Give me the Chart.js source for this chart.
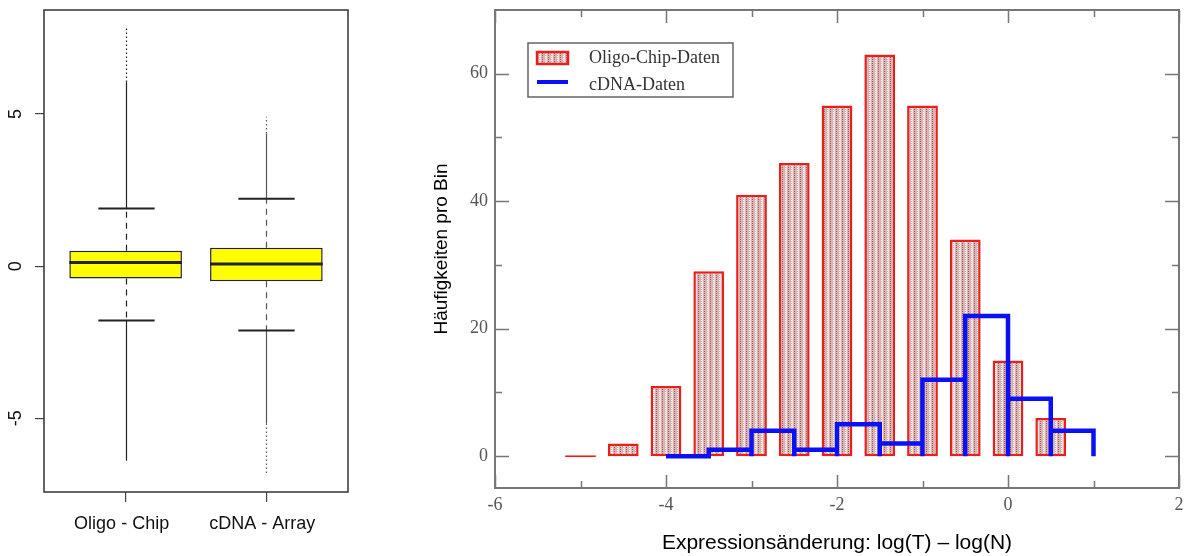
<!DOCTYPE html>
<html>
<head>
<meta charset="utf-8">
<script src="https://cdn.jsdelivr.net/npm/chart.js@4.4.0/dist/chart.umd.min.js"></script>
<style>
  html, body { margin: 0; padding: 0; background: #ffffff; }
  #wrap { position: relative; width: 1193px; height: 556px; overflow: hidden; background: #fff; }
  #boxCanvas { position: absolute; left: 0; top: 0; }
  #histCanvas { position: absolute; left: 400px; top: 0; }
</style>
</head>
<body>
<div id="wrap">
  <canvas id="boxCanvas" width="400" height="556"></canvas>
  <canvas id="histCanvas" width="793" height="556"></canvas>
</div>
<script>
// ---------- Left chart data (box plot) ----------
const boxCategories = ['Oligo - Chip', 'cDNA - Array'];
const boxQ1 = [-0.40, -0.49];
const boxMedian = [0.12, 0.07];
const boxQ3 = [0.51, 0.61];
const whiskerLow = [-1.78, -2.11];
const whiskerHigh = [1.90, 2.22];
const outlierDenseMin = [-6.39, -5.17];
const outlierDenseMax = [6.05, 4.36];
const outlierMin = [-6.39, -6.80];
const outlierMax = [7.85, 4.91];
const boxYTicks = [-5, 0, 5];

// ---------- Right chart data (histogram) ----------
const oligoLabel = 'Oligo-Chip-Daten';
const cdnaLabel = 'cDNA-Daten';
const oligoBinCenters = [-5, -4.5, -4, -3.5, -3, -2.5, -2, -1.5, -1, -0.5, 0, 0.5];
const oligoCounts = [0, 2, 11, 29, 41, 46, 55, 63, 55, 34, 15, 6];
const cdnaBinEdges = [-4, -3.5, -3, -2.5, -2, -1.5, -1, -0.5, 0, 0.5, 1];
const cdnaCounts = [0, 1, 4, 1, 5, 2, 12, 22, 9, 4];
const histXTicks = [-6, -5, -4, -3, -2, -1, 0, 1, 2];
const histXTickLabels = [-6, -4, -2, 0, 2];
const histYTicks = [0, 10, 20, 30, 40, 50, 60];
const histYTickLabels = [0, 20, 40, 60];

// ---------- helpers ----------
function makePattern() {
  const c = document.createElement('canvas');
  c.width = 6; c.height = 4;
  const g = c.getContext('2d');
  g.fillStyle = '#dbb3b3';
  g.fillRect(0, 0, 6, 4);
  g.fillStyle = '#ffffff';
  g.fillRect(1, 0, 1, 1);
  g.fillRect(1, 2, 1, 1);
  g.fillStyle = '#f3e1e1';
  g.fillRect(2, 0, 1, 4);
  g.fillStyle = '#a05a5a';
  g.fillRect(4, 1, 1, 1);
  g.fillRect(4, 3, 1, 1);
  return g.createPattern(c, 'repeat');
}
const barPattern = makePattern();
const RED = '#e8201c';
const BLUE = '#0a12f4';

function seg(ctx, x1, y1, x2, y2) {
  ctx.beginPath(); ctx.moveTo(x1, y1); ctx.lineTo(x2, y2); ctx.stroke();
}

// ---------- Left chart ----------
const boxPlugin = {
  id: 'boxDetails',
  afterDatasetsDraw(chart) {
    const { ctx } = chart;
    const ys = chart.scales.y;
    const meta = chart.getDatasetMeta(0);
    const Y = v => ys.getPixelForValue(v);
    boxCategories.forEach((cat, i) => {
      const bar = meta.data[i];
      const cx = Math.round(bar.x) + 0.5;
      const w = bar.width;
      ctx.save();
      ctx.strokeStyle = i === 0 ? '#222' : '#555';
      ctx.lineWidth = 1.2;
      ctx.setLineDash([6, 5]);
      seg(ctx, cx, Y(boxQ3[i]), cx, Y(whiskerHigh[i]));
      seg(ctx, cx, Y(boxQ1[i]), cx, Y(whiskerLow[i]));
      ctx.setLineDash([]);
      seg(ctx, cx, Y(whiskerHigh[i]), cx, Y(outlierDenseMax[i]));
      seg(ctx, cx, Y(whiskerLow[i]), cx, Y(outlierDenseMin[i]));
      ctx.setLineDash([1.5, 2.5]);
      seg(ctx, cx, Y(outlierDenseMax[i]), cx, Y(outlierMax[i]));
      seg(ctx, cx, Y(outlierDenseMin[i]), cx, Y(outlierMin[i]));
      ctx.setLineDash([]);
      ctx.strokeStyle = '#222';
      ctx.lineWidth = 2;
      seg(ctx, cx - w / 4, Y(whiskerHigh[i]), cx + w / 4, Y(whiskerHigh[i]));
      seg(ctx, cx - w / 4, Y(whiskerLow[i]), cx + w / 4, Y(whiskerLow[i]));
      ctx.lineWidth = 3;
      seg(ctx, bar.x - w / 2, Y(boxMedian[i]), bar.x + w / 2, Y(boxMedian[i]));
      ctx.restore();
    });
  },
  afterDraw(chart) {
    const { ctx, chartArea: a } = chart;
    const ys = chart.scales.y;
    ctx.save();
    ctx.strokeStyle = '#333';
    ctx.lineWidth = 1.5;
    ctx.strokeRect(a.left, a.top, a.right - a.left, a.bottom - a.top);
    ctx.fillStyle = '#111';
    ctx.font = '18px "Liberation Sans", Arial, sans-serif';
    ctx.textAlign = 'center';
    ctx.textBaseline = 'middle';
    boxYTicks.forEach(v => {
      ctx.save();
      ctx.translate(16, ys.getPixelForValue(v));
      ctx.rotate(-Math.PI / 2);
      ctx.fillText(String(v), 0, 0);
      ctx.restore();
    });
    ctx.restore();
  }
};

new Chart(document.getElementById('boxCanvas'), {
  type: 'bar',
  data: {
    datasets: [{
      label: 'box',
      data: boxCategories.map((c, i) => ({ x: i + 1, y: [boxQ1[i], boxQ3[i]] })),
      backgroundColor: '#ffff00',
      borderColor: '#222',
      borderWidth: 1.5,
      borderSkipped: false,
      barPercentage: 0.8,
      categoryPercentage: 1.0
    }]
  },
  options: {
    responsive: false,
    animation: false,
    devicePixelRatio: 1,
    layout: { padding: { top: 10, right: 52, bottom: 0, left: 0 } },
    plugins: { legend: { display: false }, tooltip: { enabled: false } },
    scales: {
      x: {
        type: 'linear',
        offset: false,
        min: 0.42, max: 2.58,
        afterBuildTicks: s => { s.ticks = boxCategories.map((c, i) => ({ value: i + 1 })); },
        afterFit: s => { s.height = 64; s.paddingLeft = 0; s.paddingRight = 0; },
        ticks: {
          callback: v => boxCategories[v - 1],
          font: { family: '"Liberation Sans", Arial, sans-serif', size: 18 },
          color: '#111',
          padding: 11,
          labelOffset: -4,
          maxRotation: 0, autoSkip: false
        },
        grid: { display: true, offset: false, drawOnChartArea: false, drawTicks: true, tickLength: 10, color: '#444', lineWidth: 1.2 },
        border: { display: false }
      },
      y: {
        type: 'linear',
        min: -7.42, max: 8.42,
        afterBuildTicks: s => { s.ticks = boxYTicks.map(v => ({ value: v })); },
        afterFit: s => { s.width = 44; s.paddingTop = 0; s.paddingBottom = 0; },
        ticks: { display: false },
        grid: { display: true, drawOnChartArea: false, drawTicks: true, tickLength: 9, color: '#444', lineWidth: 1.2 },
        border: { display: false }
      }
    }
  },
  plugins: [boxPlugin]
});

// ---------- Right chart ----------
const cdnaPoints = [];
cdnaCounts.forEach((v, i) => {
  cdnaPoints.push({ x: cdnaBinEdges[i], y: 0 });
  cdnaPoints.push({ x: cdnaBinEdges[i], y: v });
  cdnaPoints.push({ x: cdnaBinEdges[i + 1], y: v });
  cdnaPoints.push({ x: cdnaBinEdges[i + 1], y: 0 });
});

const histPlugin = {
  id: 'histFrame',
  afterDraw(chart) {
    const { ctx, chartArea: a } = chart;
    const xs = chart.scales.x, ys = chart.scales.y;
    ctx.save();
    ctx.strokeStyle = '#777';
    ctx.lineWidth = 2;
    ctx.strokeRect(a.left, a.top, a.right - a.left, a.bottom - a.top);
    ctx.lineWidth = 1.5;
    histXTicks.forEach(v => {
      const x = Math.round(xs.getPixelForValue(v)) + 0.5;
      const len = (v % 2 === 0) ? 13 : 7;
      seg(ctx, x, a.bottom, x, a.bottom - len);
      seg(ctx, x, a.top, x, a.top + len);
    });
    histYTicks.forEach(v => {
      const y = Math.round(ys.getPixelForValue(v)) + 0.5;
      const len = (v % 20 === 0) ? 14 : 7;
      seg(ctx, a.left, y, a.left + len, y);
      seg(ctx, a.right, y, a.right - len, y);
    });
    // legend
    const lx = 128, ly = 43, lw = 205, lh = 54;
    ctx.fillStyle = '#fff';
    ctx.fillRect(lx, ly, lw, lh);
    ctx.strokeStyle = '#666';
    ctx.lineWidth = 1.5;
    ctx.strokeRect(lx, ly, lw, lh);
    const ds = chart.data.datasets;
    const barDs = ds.find(d => d.type === 'bar');
    const lineDs = ds.find(d => d.type === 'line');
    ctx.fillStyle = barPattern;
    ctx.fillRect(137, 52, 31, 12);
    ctx.strokeStyle = RED;
    ctx.lineWidth = 2.5;
    ctx.strokeRect(137, 52, 31, 12);
    ctx.strokeStyle = BLUE;
    ctx.lineWidth = 4;
    seg(ctx, 137, 82, 168, 82);
    ctx.fillStyle = '#333';
    ctx.font = '18px "Liberation Serif", "Times New Roman", serif';
    ctx.textAlign = 'left';
    ctx.textBaseline = 'middle';
    ctx.fillText(barDs.label, 189, 58);
    ctx.fillText(lineDs.label, 189, 85);
    ctx.restore();
  }
};

new Chart(document.getElementById('histCanvas'), {
  type: 'bar',
  data: {
    datasets: [
      {
        type: 'line',
        label: cdnaLabel,
        data: cdnaPoints,
        borderColor: BLUE,
        borderWidth: 4.5,
        pointRadius: 0,
        tension: 0,
        fill: false,
        borderJoinStyle: 'miter',
        order: 0
      },
      {
        type: 'bar',
        label: oligoLabel,
        data: oligoBinCenters.map((x, i) => ({ x: x, y: oligoCounts[i] })),
        backgroundColor: barPattern,
        borderColor: RED,
        borderWidth: 2.5,
        borderSkipped: false,
        minBarLength: 2,
        barPercentage: 0.72,
        categoryPercentage: 1.0,
        order: 1
      }
    ]
  },
  options: {
    responsive: false,
    animation: false,
    devicePixelRatio: 1,
    layout: { padding: { top: 10, right: 14, bottom: 0, left: 0 } },
    plugins: { legend: { display: false }, tooltip: { enabled: false } },
    scales: {
      x: {
        type: 'linear',
        offset: false,
        min: -6, max: 2,
        afterBuildTicks: s => { s.ticks = histXTicks.map(v => ({ value: v })); },
        afterFit: s => { s.height = 68; s.paddingLeft = 0; s.paddingRight = 0; },
        ticks: {
          callback: v => histXTickLabels.includes(v) ? String(v) : '',
          font: { family: '"Liberation Serif", "Times New Roman", serif', size: 18 },
          color: '#555',
          padding: 6,
          maxRotation: 0, autoSkip: false
        },
        grid: { display: false, offset: false, drawTicks: false },
        border: { display: false },
        title: {
          display: true,
          text: 'Expressionsänderung: log(T) – log(N)',
          font: { family: '"Liberation Sans", Arial, sans-serif', size: 21 },
          color: '#000',
          padding: { top: 0, bottom: 0 }
        }
      },
      y: {
        type: 'linear',
        min: -5, max: 70,
        afterBuildTicks: s => { s.ticks = histYTicks.map(v => ({ value: v })); },
        afterFit: s => { s.width = 95; s.paddingTop = 0; s.paddingBottom = 0; },
        ticks: {
          callback: v => histYTickLabels.includes(v) ? String(v) : '',
          font: { family: '"Liberation Serif", "Times New Roman", serif', size: 18 },
          color: '#555',
          padding: 7,
          autoSkip: false
        },
        grid: { display: false, drawTicks: false },
        border: { display: false },
        title: {
          display: true,
          text: 'Häufigkeiten pro Bin',
          font: { family: '"Liberation Sans", Arial, sans-serif', size: 19 },
          color: '#000',
          padding: { top: 30, bottom: 0 }
        }
      }
    }
  },
  plugins: [histPlugin]
});
</script>
</body>
</html>
